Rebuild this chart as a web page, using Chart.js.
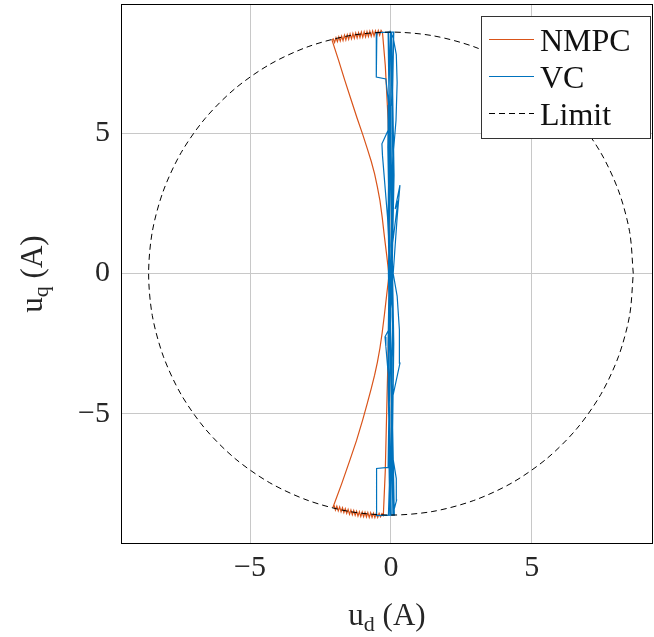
<!DOCTYPE html>
<html>
<head>
<meta charset="utf-8">
<script src="https://cdn.jsdelivr.net/npm/chart.js@4.4.1/dist/chart.umd.min.js"></script>
<style>
  html, body { margin: 0; padding: 0; background: #fff; }
  #wrap { width: 654px; height: 637px; }
</style>
</head>
<body>
<div id="wrap"><canvas id="c" width="654" height="637"></canvas></div>
<script>
// u_d / u_q trajectories
const nmpcD = [-0.30, -0.35, -0.40, -0.45, -0.50, -0.55, -0.60, -0.65, -0.70, -0.75, -0.80, -0.85, -0.90, -0.95, -1.00, -1.05, -1.10, -1.15, -1.20, -1.25, -1.30,
  -1.35, -1.40, -1.45, -1.50, -1.55, -1.60, -1.65, -1.70, -1.75, -1.80, -1.85, -1.90, -1.95, -2.00, -2.05, -2.09,
  -1.86, -1.64, -1.42, -1.20, -1.00, -0.84, -0.70, -0.58, -0.48, -0.39, -0.31, -0.23, -0.15, -0.07,
  -0.15, -0.23, -0.31, -0.39, -0.48, -0.58, -0.70, -0.84, -1.00, -1.22, -1.46, -1.75, -2.06,
  -2.02, -1.97, -1.92, -1.87, -1.82, -1.77, -1.72, -1.67, -1.62, -1.57, -1.52, -1.47, -1.42, -1.37, -1.32, -1.27, -1.22, -1.17, -1.12, -1.07, -1.02,
  -0.97, -0.92, -0.87, -0.82, -0.77, -0.72, -0.67, -0.62, -0.57, -0.52, -0.47, -0.42, -0.37, -0.32, -0.27,
  -0.20, -0.14, -0.08, -0.04, -0.06, -0.10, -0.20, -0.30];
const nmpcQ = [8.58, 8.66, 8.49, 8.65, 8.48, 8.64, 8.46, 8.64, 8.45, 8.63, 8.44, 8.62, 8.43, 8.61, 8.42, 8.60, 8.41, 8.58, 8.39, 8.57, 8.38,
  8.55, 8.36, 8.53, 8.34, 8.51, 8.32, 8.49, 8.30, 8.46, 8.28, 8.43, 8.26, 8.40, 8.23, 8.36, 8.31,
  7.60, 6.89, 6.21, 5.53, 4.95, 4.45, 4.00, 3.55, 3.08, 2.60, 2.00, 1.30, 0.65, -0.06,
  -0.75, -1.45, -2.10, -2.65, -3.15, -3.62, -4.10, -4.62, -5.20, -5.94, -6.65, -7.49, -8.33,
  -8.25, -8.42, -8.28, -8.45, -8.31, -8.48, -8.34, -8.51, -8.37, -8.54, -8.40, -8.57, -8.42, -8.59, -8.44, -8.61, -8.46, -8.63, -8.48, -8.65, -8.49,
  -8.66, -8.50, -8.67, -8.51, -8.68, -8.52, -8.68, -8.53, -8.69, -8.53, -8.68, -8.54, -8.66, -8.55, -8.61,
  -7.00, -4.45, -2.00, 0.10, 3.00, 5.46, 7.40, 8.58];

const vcD = [0.00, -0.50, -0.52, -0.18, -0.08, -0.10, -0.32, -0.30, -0.12, -0.05, 0.05, -0.08, -0.21, -0.18, -0.06, -0.10, -0.51, -0.51, 0.06,
  0.20, 0.19, 0.06, 0.04, 0.32, 0.30, 0.22, 0.08, 0.22, 0.32, 0.15, 0.25, 0.05, 0.06, 0.18, 0.22, 0.19, 0.08, -0.02,
  -0.08, -0.04, -0.09, -0.03, -0.08, -0.04, 0.08, 0.04, 0.09, 0.03, 0.08, 0.04, 0.09, 0.02, -0.02, 0.02, -0.02, 0.02, 0.00,
  -0.06, -0.10, -0.05, -0.11, -0.06, -0.09, 0.10, 0.06, 0.11, 0.05, 0.10, 0.06, 0.12, -0.01, 0.03, -0.03, 0.03, -0.01, 0.00,
  -0.07, -0.02, -0.07, -0.01, -0.06, 0.01, 0.07, 0.01, 0.06, 0.00, 0.07, 0.02, -0.10, -0.06, -0.10, -0.05, -0.10, -0.04, -0.09];
const vcQ = [8.60, 8.58, 7.00, 6.93, 6.00, 5.10, 4.62, 4.20, 2.00, 0.50, -0.50, -2.00, -2.25, -2.60, -4.00, -6.90, -6.94, -8.62, -8.60,
  -8.07, -7.30, -6.50, -4.50, -3.19, -2.00, -0.80, 0.00, 2.00, 3.15, 2.30, 2.60, 1.00, 4.00, 5.46, 6.80, 7.80, 8.40, 8.60,
  6.00, 3.00, 0.00, -3.00, -6.00, -8.60, -8.60, -6.00, -3.00, 0.00, 3.00, 6.00, 8.60, 8.60, 5.00, 1.50, -1.50, -5.00, -8.60,
  -5.50, -2.50, 1.00, 4.50, 7.00, 8.60, 8.60, 6.50, 3.50, 0.50, -2.50, -5.50, -8.60, -8.60, -4.00, -1.00, 2.50, 6.00, 8.60,
  7.00, 4.00, 1.50, -1.50, -4.50, -8.60, -8.60, -5.00, -2.00, 1.00, 4.50, 8.60, 8.60, 5.50, 2.00, -1.00, -4.00, -7.00, -8.60];

// voltage limit circle, radius 8.6
const limitD = [8.60, 8.47, 8.08, 7.45, 6.59, 5.53, 4.30, 2.94, 1.49, 0.00, -1.49, -2.94, -4.30, -5.53, -6.59, -7.45, -8.08, -8.47, -8.60,
  -8.47, -8.08, -7.45, -6.59, -5.53, -4.30, -2.94, -1.49, 0.00, 1.49, 2.94, 4.30, 5.53, 6.59, 7.45, 8.08, 8.47, 8.60];
const limitQ = [0.00, 1.49, 2.94, 4.30, 5.53, 6.59, 7.45, 8.08, 8.47, 8.60, 8.47, 8.08, 7.45, 6.59, 5.53, 4.30, 2.94, 1.49, 0.00,
  -1.49, -2.94, -4.30, -5.53, -6.59, -7.45, -8.08, -8.47, -8.60, -8.47, -8.08, -7.45, -6.59, -5.53, -4.30, -2.94, -1.49, 0.00];

const xTicks = [-5, 0, 5];
const yTicks = [-5, 0, 5];

const ORANGE = '#D95319';
const BLUE = '#0072BD';
const FONT = '"Liberation Serif", "DejaVu Serif", serif';

const toPts = (xs, ys) => xs.map((x, i) => ({ x: x, y: ys[i] }));
const fmt = v => (v < 0 ? '\u2212' + Math.abs(v) : String(v));

// frame, axis titles with subscripts, legend box
const decor = {
    id: 'decor',
    afterDraw(chart) {
        const ctx = chart.ctx;
        const a = chart.chartArea;
        ctx.save();
        ctx.strokeStyle = '#000';
        ctx.lineWidth = 1;
        ctx.strokeRect(a.left + 0.5, a.top + 0.5, a.right - a.left - 1, a.bottom - a.top - 1);

        const subLabel = (base, sub, rest, x, y, rot) => {
            ctx.save();
            ctx.translate(x, y);
            ctx.rotate(rot);
            ctx.fillStyle = '#262626';
            ctx.textBaseline = 'alphabetic';
            ctx.font = '31px ' + FONT;
            const w1 = ctx.measureText(base).width;
            const w3 = ctx.measureText(rest).width;
            ctx.font = '22px ' + FONT;
            const w2 = ctx.measureText(sub).width;
            let sx = -(w1 + w2 + w3) / 2;
            ctx.font = '31px ' + FONT;
            ctx.fillText(base, sx, 0);
            ctx.font = '22px ' + FONT;
            ctx.fillText(sub, sx + w1, 6);
            ctx.font = '31px ' + FONT;
            ctx.fillText(rest, sx + w1 + w2, 0);
            ctx.restore();
        };
        subLabel('u', 'd', ' (A)', (a.left + a.right) / 2, 625, 0);
        subLabel('u', 'q', ' (A)', 42, (a.top + a.bottom) / 2, -Math.PI / 2);

        // legend
        const lx = a.right - 172, ly = a.top + 12, lw = 169, lh = 122;
        ctx.fillStyle = '#fff';
        ctx.fillRect(lx, ly, lw, lh);
        ctx.strokeStyle = '#333';
        ctx.strokeRect(lx + 0.5, ly + 0.5, lw, lh);
        const items = [
            { text: 'NMPC', color: ORANGE, dash: [] },
            { text: 'VC', color: BLUE, dash: [] },
            { text: 'Limit', color: '#000', dash: [6, 4] }
        ];
        items.forEach((it, i) => {
            const y = ly + 23.5 + i * 37;
            ctx.strokeStyle = it.color;
            ctx.setLineDash(it.dash);
            ctx.beginPath();
            ctx.moveTo(lx + 8, y);
            ctx.lineTo(lx + 53, y);
            ctx.stroke();
            ctx.setLineDash([]);
            ctx.fillStyle = '#111';
            ctx.font = '32px ' + FONT;
            ctx.textBaseline = 'alphabetic';
            ctx.fillText(it.text, lx + 59, y + 11);
        });
        ctx.restore();
    }
};

new Chart(document.getElementById('c').getContext('2d'), {
    type: 'scatter',
    data: {
        datasets: [
            {
                label: 'NMPC',
                data: toPts(nmpcD, nmpcQ),
                showLine: true,
                borderColor: ORANGE,
                borderWidth: 1.2,
                pointRadius: 0,
                order: 2
            },
            {
                label: 'VC',
                data: toPts(vcD, vcQ),
                showLine: true,
                borderColor: BLUE,
                borderWidth: 1.2,
                pointRadius: 0,
                order: 1
            },
            {
                label: 'Limit',
                data: toPts(limitD, limitQ),
                showLine: true,
                borderColor: '#000',
                borderWidth: 1,
                borderDash: [6, 4],
                pointRadius: 0,
                tension: 0.3,
                order: 0
            }
        ]
    },
    options: {
        responsive: false,
        animation: false,
        devicePixelRatio: 1,
        layout: { padding: { top: 4, right: 1, left: 0, bottom: 0 } },
        plugins: {
            legend: { display: false },
            tooltip: { enabled: false }
        },
        scales: {
            x: {
                type: 'linear',
                min: -9.58,
                max: 9.3,
                afterBuildTicks: axis => { axis.ticks = xTicks.map(v => ({ value: v })); },
                afterFit: axis => { axis.height = 93; axis.paddingLeft = 0; axis.paddingRight = 0; },
                grid: { color: '#c8c8c8', drawTicks: false },
                border: { display: false },
                ticks: {
                    padding: 6,
                    color: '#262626',
                    font: { family: FONT, size: 30 },
                    callback: v => fmt(v)
                }
            },
            y: {
                type: 'linear',
                min: -9.63,
                max: 9.6,
                afterBuildTicks: axis => { axis.ticks = yTicks.map(v => ({ value: v })); },
                afterFit: axis => { axis.width = 121; axis.paddingTop = 0; axis.paddingBottom = 0; },
                grid: { color: '#c8c8c8', drawTicks: false },
                border: { display: false },
                ticks: {
                    padding: 11,
                    color: '#262626',
                    font: { family: FONT, size: 30 },
                    callback: v => fmt(v)
                }
            }
        }
    },
    plugins: [decor]
});
</script>
</body>
</html>
